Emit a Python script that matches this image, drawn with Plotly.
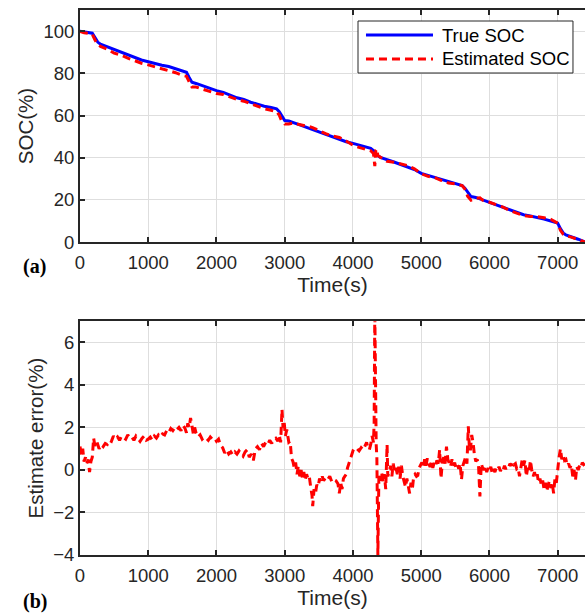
import plotly.graph_objects as go
from plotly.subplots import make_subplots

# (a) true and estimated SOC
true_t = [0, 100, 180, 220, 260, 300, 400, 500, 600, 700, 800, 900, 1000, 1100, 1200, 1300,
          1400, 1500, 1560, 1600, 1640, 1700, 1800, 1900, 2000, 2100, 2200, 2300, 2400, 2500,
          2600, 2700, 2800, 2880, 2920, 2960, 3000, 3060, 3120, 3200, 3300, 3400, 3500, 3600,
          3700, 3800, 3900, 4000, 4100, 4200, 4260, 4300, 4360, 4400, 4500, 4600, 4700, 4800,
          4900, 5000, 5100, 5200, 5300, 5400, 5500, 5600, 5640, 5680, 5730, 5800, 5900, 6000,
          6100, 6200, 6300, 6400, 6500, 6600, 6700, 6800, 6900, 7000, 7040, 7080, 7120, 7200,
          7300, 7380, 7400]
true_soc = [100, 99.5, 99, 97, 94.8, 93.8, 92.6, 91.2, 90, 88.8, 87.5, 86.3, 85.5, 84.6, 83.8, 83.2,
            82.2, 81, 80.5, 78, 75.8, 75.2, 74, 73, 71.8, 71, 69.6, 68.4, 67.6, 66.3,
            65.4, 64.4, 63.8, 63.2, 61.8, 59.5, 57.6, 57.4, 56.8, 55.8, 54.6, 53.4, 52.2, 51.0,
            49.8, 48.7, 47.6, 46.8, 45.8, 45.0, 44.5, 43.4, 41, 40.2, 39.2, 38, 36.8, 35.6,
            34.4, 32.6, 31.6, 30.8, 29.6, 28.6, 27.8, 26.8, 25.6, 23.6, 21.6, 21.2, 20.0, 18.9,
            17.8, 16.6, 15.2, 13.9, 13.0, 12.4, 11.8, 10.9, 10.0, 9.0, 6.4, 4.4, 3.4, 2.6,
            1.4, 0.4, 0.2]

est_t = [0, 60, 120, 180, 220, 260, 300, 400, 500, 600, 700, 800, 900, 1000, 1100, 1200, 1300,
         1400, 1500, 1560, 1600, 1640, 1700, 1800, 1900, 2000, 2100, 2200, 2300, 2400, 2500,
         2600, 2700, 2800, 2880, 2920, 2960, 3000, 3060, 3120, 3200, 3300, 3400, 3500, 3600,
         3700, 3800, 3900, 4000, 4100, 4200, 4260, 4300, 4320, 4335, 4350, 4365, 4400, 4500,
         4600, 4700, 4800, 4900, 5000, 5100, 5200, 5300, 5400, 5500, 5600, 5640, 5680, 5730,
         5800, 5860, 5900, 6000, 6100, 6200, 6300, 6400, 6500, 6600, 6700, 6800, 6900, 7000,
         7040, 7080, 7120, 7200, 7300, 7380, 7400]
est_soc = [99.8, 99.2, 99.0, 98.5, 95.8, 93.6, 92.8, 91.4, 89.6, 88.6, 87.2, 86.0, 84.8, 84.0, 83.1, 82.2, 81.4,
           80.3, 79.0, 78.6, 76.0, 73.5, 73.5, 72.4, 71.5, 70.4, 70.0, 68.8, 67.6, 66.8, 65.6,
           64.4, 63.2, 62.5, 61.8, 60.2, 57.0, 56.0, 56.0, 56.4, 55.8, 55.0, 54.4, 52.9, 51.4,
           50.3, 49.6, 47.9, 45.9, 44.8, 43.8, 43.3, 42.0, 36.0, 43.5, 44.2, 41.0, 40.4, 38.3,
           37.9, 37.1, 36.3, 34.8, 32.4, 31.2, 30.6, 29.2, 28.0, 27.6, 26.8, 25.2, 21.8, 19.9,
           20.8, 21.0, 19.9, 18.9, 17.7, 16.6, 14.9, 13.8, 12.6, 12.2, 12.1, 11.6, 10.8, 9.0,
           5.6, 3.8, 3.0, 2.4, 1.3, 0.2, 0.0]

# (b) estimate error
err_t = [0, 20, 40, 60, 80, 100, 120, 140, 160, 180, 200, 220, 250, 280, 310, 340, 370, 400, 430, 460,
         490, 520, 550, 580, 610, 640, 670, 700, 730, 760, 790, 820, 850, 880, 910, 940, 970, 1000,
         1030, 1060, 1090, 1120, 1150, 1180, 1210, 1240, 1270, 1300, 1330, 1360, 1390, 1420, 1450,
         1480, 1510, 1540, 1560, 1580, 1600, 1620, 1640, 1660, 1680, 1700, 1730, 1760, 1790, 1820,
         1850, 1880, 1910, 1940, 1970, 2000, 2030, 2060, 2090, 2120, 2150, 2180, 2210, 2240, 2270,
         2300, 2330, 2360, 2390, 2420, 2450, 2480, 2510, 2540, 2570, 2600, 2630, 2660, 2690, 2720,
         2750, 2780, 2810, 2840, 2870, 2900, 2920, 2940, 2960, 2975, 2990, 3010, 3030, 3060, 3080,
         3100, 3120, 3140, 3160, 3180, 3200, 3220, 3240, 3260, 3280, 3300, 3320, 3340, 3360, 3380,
         3400, 3410, 3430, 3450, 3470, 3490, 3510, 3530, 3550, 3570, 3600, 3630, 3660, 3690, 3720,
         3750, 3780, 3800, 3820, 3840, 3860, 3880, 3900, 3920, 3940, 3960, 3980, 4000, 4030, 4060,
         4090, 4120, 4150, 4180, 4200, 4220, 4240, 4260, 4280, 4300, 4310, 4320, 4330, 4340, 4350,
         4365, 4380, 4400, 4420, 4440, 4460, 4480, 4500, 4510, 4530, 4550, 4570, 4590, 4610, 4630,
         4650, 4670, 4690, 4710, 4730, 4750, 4770, 4790, 4810, 4830, 4850, 4870, 4890, 4910, 4930,
         4950, 4970, 4990, 5010, 5030, 5050, 5070, 5090, 5110, 5130, 5150, 5170, 5190, 5210, 5230,
         5250, 5270, 5290, 5310, 5330, 5350, 5370, 5390, 5410, 5430, 5450, 5470, 5490, 5510, 5530,
         5550, 5570, 5590, 5610, 5630, 5650, 5670, 5690, 5705, 5720, 5740, 5760, 5780, 5800, 5820,
         5840, 5860, 5880, 5900, 5920, 5940, 5960, 5980, 6000, 6020, 6040, 6060, 6080, 6100, 6120,
         6140, 6160, 6180, 6200, 6220, 6240, 6260, 6280, 6300, 6320, 6340, 6360, 6380, 6400, 6420,
         6440, 6460, 6480, 6500, 6520, 6540, 6560, 6580, 6600, 6620, 6640, 6660, 6680, 6700, 6720,
         6740, 6760, 6780, 6800, 6820, 6840, 6860, 6880, 6900, 6920, 6940, 6960, 6980, 7000, 7020,
         7040, 7060, 7080, 7100, 7120, 7140, 7160, 7180, 7200, 7220, 7240, 7260, 7280, 7300, 7320,
         7340, 7360, 7380, 7400]
err_val = [1.1, 0.7, 1.0, 0.4, 0.6, 0.3, 0.5, -0.1, 0.4, 0.6, 1.5, 1.1, 1.3, 1.0, 1.2, 1.1, 1.25, 1.2, 1.4, 1.35,
           1.6, 1.45, 1.55, 1.4, 1.6, 1.5, 1.45, 1.65, 1.5, 1.55, 1.4, 1.6, 1.45, 1.35, 1.5, 1.6, 1.4, 1.45,
           1.55, 1.4, 1.6, 1.5, 1.65, 1.55, 1.7, 1.65, 1.85, 1.75, 1.95, 1.85, 2.0, 1.9, 2.0,
           1.85, 2.1, 1.95, 1.75, 2.2, 2.0, 2.45, 2.1, 1.7, 2.0, 1.75, 1.55, 1.65, 1.45, 1.55,
           1.5, 1.4, 1.55, 1.45, 1.5, 1.35, 1.45, 1.15, 1.05, 0.8, 0.95, 0.75, 0.85, 0.7, 0.85,
           0.75, 0.9, 0.8, 0.65, 0.85, 0.95, 0.6, 0.75, 0.45, 1.0, 1.1, 0.95, 1.25, 1.1, 1.3,
           1.2, 1.4, 1.25, 1.45, 1.5, 1.35, 1.65, 1.3, 2.85, 2.0, 2.3, 1.6, 1.9, 1.3, 1.35,
           0.55, 0.4, 0.1, 0.35, -0.2, 0.2, -0.3, 0.0, -0.4, -0.1, -0.5, -0.2, -0.4, -0.3, -0.8,
           -1.2, -1.7, -0.9, -1.1, -0.7, -0.8, -0.4, -0.55, -0.3, -0.5, -0.35, -0.45, -0.3, -0.55, -0.45,
           -0.5, -0.65, -1.1, -0.6, -0.9, -0.4, -0.3, -0.2, 0.1, 0.3, 0.55, 0.7, 0.9, 0.85, 1.0,
           0.9, 1.05, 0.95, 1.2, 1.3, 1.0, 0.95, 1.2, 1.6, 1.3, 2.2, 7.5, 2.0, 1.2, 0.6,
           -4.0, -0.2, -0.5, -0.1, -0.6, -0.2, -0.9, 1.2, -0.3, -0.1, 0.2, -0.3, 0.3, -0.1, 0.1,
           -0.2, 0.15, -0.4, 0.2, -0.3, -0.5, -0.8, -0.4, -0.7, -1.1, -0.6, -0.9, -0.3, -0.2, -0.3,
           -0.25, 0.1, 0.2, 0.35, 0.1, 0.5, 0.2, 0.55, 0.3, 0.15, 0.4, 0.1, 0.35, 0.2, 0.45,
           0.3, 0.95, -0.4, 0.4, 0.6, 0.3, 1.1, 0.5, 0.3, 0.15, 0.5, 0.2, 0.35, 0.1, 0.25,
           0.05, 0.3, -0.45, 0.2, 0.4, 0.6, 0.3, 2.05, 1.1, 0.9, 1.65, 1.3, 0.7, 0.4, 0.5,
           0.2, -1.25, 0.3, 0.1, 0.0, 0.2, -0.1, 0.1, -0.05, 0.15, -0.15, 0.05, -0.1, 0.1, 0.0,
           0.15, -0.05, 0.1, 0.0, 0.2, 0.05, 0.15, 0.1, 0.3, 0.2, 0.4, 0.25, 0.3, 0.05, 0.1,
           -0.3, 0.1, 0.5, 0.2, 0.45, -0.3, 0.1, -0.1, 0.45, 0.0, -0.3, -0.1, -0.4, -0.2, -0.6,
           -0.4, -0.7, -0.5, -0.9, -0.6, -1.0, -0.7, -0.5, -0.85, -0.6, -1.1, -0.4, -0.6, 0.15, 0.6,
           1.0, 0.5, 0.7, 0.45, 0.5, 0.2, 0.3, 0.1, 0.25, -0.3, 0.0, -0.5, 0.15, 0.0, 0.2,
           0.1, 0.35, 0.25, 0.3]

x_ticks = [0, 1000, 2000, 3000, 4000, 5000, 6000, 7000]
soc_ticks = [0, 20, 40, 60, 80, 100]
err_ticks = [-4, -2, 0, 2, 4, 6]
legend_names = ["True SOC", "Estimated SOC"]

ink = "#262626"
grid = "#dedede"
font_main = "Liberation Sans, Arial, sans-serif"
font_label = "Liberation Serif, Times New Roman, serif"
blue_line = dict(color="#0000ff", width=3)
red_line = dict(color="#ff0000", width=3, dash="8px,5px")

fig = make_subplots(rows=2, cols=1, vertical_spacing=0.145)

fig.add_trace(go.Scatter(x=true_t, y=true_soc, mode="lines", name=legend_names[0],
                         line=blue_line), row=1, col=1)
fig.add_trace(go.Scatter(x=est_t, y=est_soc, mode="lines", name=legend_names[1],
                         line=red_line), row=1, col=1)
fig.add_trace(go.Scatter(x=err_t, y=err_val, mode="lines", line=red_line), row=2, col=1)

axis_style = dict(showline=True, linecolor=ink, linewidth=2, ticks="inside", ticklen=5,
                  tickwidth=2, tickcolor=ink, showgrid=True, gridcolor=grid, gridwidth=1,
                  zeroline=False, tickfont=dict(size=18.5, color=ink, family=font_main))

fig.update_xaxes(**axis_style, range=[0, 7400], tickvals=x_ticks, mirror="ticks",
                 ticklabelstandoff=3,
                 title=dict(text="Time(s)", font=dict(size=21, color=ink, family=font_main),
                            standoff=5))
fig.update_yaxes(**axis_style, mirror=False)
fig.update_yaxes(range=[0, 110], tickvals=soc_ticks, row=1, col=1,
                 title=dict(text="SOC(%)", font=dict(size=20.5, color=ink, family=font_main),
                            standoff=4))
fig.update_yaxes(range=[-4, 7], tickvals=err_ticks, row=2, col=1,
                 title=dict(text="Estimate error(%)", font=dict(size=20.5, color=ink, family=font_main),
                            standoff=4))

# MATLAB-style legend box: drawn by hand so the long line samples and tight rows match
legend_shapes = [
    dict(type="rect", xref="paper", yref="paper", x0=0.5505, x1=0.9762, y0=0.8844, y1=0.9798,
         line=dict(color=ink, width=1), fillcolor="white", layer="above"),
    dict(type="line", xref="paper", yref="paper", x0=0.5663, x1=0.6990, y0=0.9541, y1=0.9541,
         line=blue_line, layer="above"),
    dict(type="line", xref="paper", yref="paper", x0=0.5663, x1=0.6990, y0=0.9101, y1=0.9101,
         line=red_line, layer="above"),
]
legend_text = [
    dict(text=legend_names[0], xref="paper", yref="paper", x=0.7129, y=0.9541, xanchor="left",
         yanchor="middle", showarrow=False, font=dict(size=18.5, color="black", family=font_main)),
    dict(text=legend_names[1], xref="paper", yref="paper", x=0.7129, y=0.9101, xanchor="left",
         yanchor="middle", showarrow=False, font=dict(size=18.5, color="black", family=font_main)),
]

fig.update_layout(
    width=585, height=614,
    margin=dict(l=80, r=0, t=10, b=59),
    paper_bgcolor="white", plot_bgcolor="white",
    showlegend=False,
    yaxis=dict(domain=[0.574, 1.0]),
    yaxis2=dict(domain=[0.0, 0.429]),
    shapes=legend_shapes,
    annotations=legend_text + [
        dict(text="<b>(a)</b>", xref="paper", yref="paper", x=-0.09, y=0.529,
             xanchor="center", yanchor="middle",
             showarrow=False, font=dict(size=20, color="black", family=font_label)),
        dict(text="<b>(b)</b>", xref="paper", yref="paper", x=-0.09, y=-0.086,
             xanchor="center", yanchor="middle",
             showarrow=False, font=dict(size=20, color="black", family=font_label)),
    ],
)

# drop the default 8px page margin so the figure sits flush in the window
fig.write_html("out.html", config={"displayModeBar": False},
               post_script="document.body.style.margin='0';")
